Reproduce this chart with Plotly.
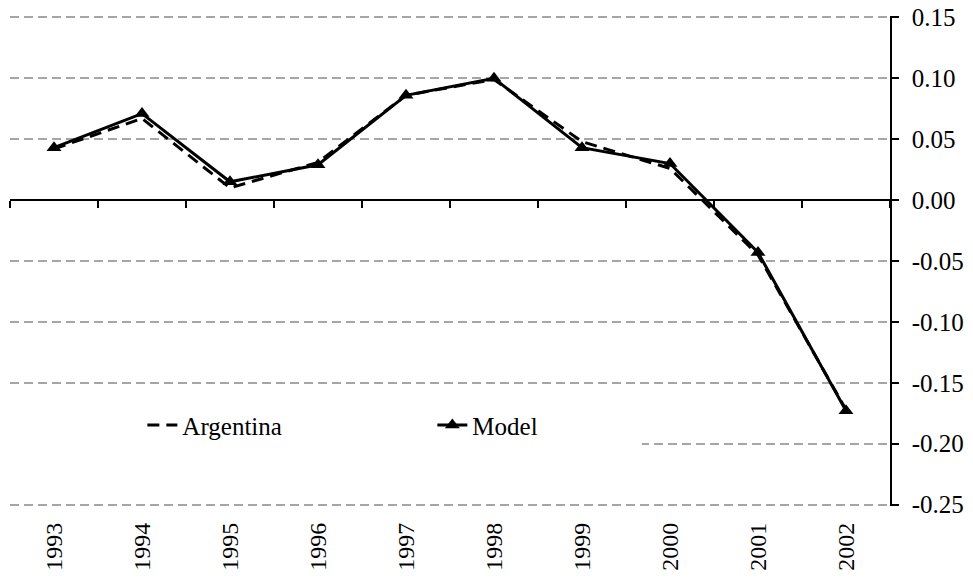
import plotly.graph_objects as go

years = ["1993", "1994", "1995", "1996", "1997", "1998", "1999", "2000", "2001", "2002"]
argentina = [0.042, 0.067, 0.010, 0.031, 0.086, 0.099, 0.048, 0.026, -0.045, -0.172]
model = [0.043, 0.071, 0.015, 0.029, 0.086, 0.100, 0.043, 0.030, -0.043, -0.173]

y_ticks = [0.15, 0.10, 0.05, 0.00, -0.05, -0.10, -0.15, -0.20, -0.25]
y_tick_text = ["0.15", "0.10", "0.05", "0.00", "-0.05", "-0.10", "-0.15", "-0.20", "-0.25"]

FONT = "Liberation Serif, Times New Roman, serif"

fig = go.Figure()
fig.add_trace(go.Scatter(
    x=years, y=argentina, name="Argentina", mode="lines",
    line=dict(color="black", width=3, dash="12px,7px"),
))
fig.add_trace(go.Scatter(
    x=years, y=model, name="Model", mode="lines+markers",
    line=dict(color="black", width=3),
    marker=dict(symbol="triangle-up", size=13, color="black"),
))
# invisible carrier trace so the zero-crossing category axis (x2) gets drawn
fig.add_trace(go.Scatter(
    x=list(range(len(years))), y=model, xaxis="x2", mode="lines",
    line=dict(width=0, color="rgba(0,0,0,0)"), showlegend=False, hoverinfo="skip",
))

# small padding so the gridlines at 0.15 and -0.25 are drawn
eps = 0.0011
ymin, ymax = -0.25 - eps, 0.15 + eps
zero_frac = (0 - ymin) / (ymax - ymin)

# page body has an 8px default margin, so the figure is sized to fit inside it
fig.update_layout(
    width=957, height=564,
    margin=dict(l=2, r=75, t=8, b=66, autoexpand=False),
    paper_bgcolor="white", plot_bgcolor="white",
    font=dict(family=FONT, size=25, color="black"),
    xaxis=dict(
        type="category", categoryorder="array", categoryarray=years,
        range=[-0.5, len(years) - 0.5], automargin=False,
        showgrid=False, zeroline=False, showline=False, ticks="",
        tickangle=-90, ticklabelstandoff=11,
        tickfont=dict(family=FONT, size=24, color="black"),
    ),
    xaxis2=dict(
        overlaying="x", anchor="free", position=zero_frac, side="bottom",
        range=[-0.5, len(years) - 0.5], automargin=False,
        tickmode="array", tickvals=[i - 0.5 for i in range(len(years) + 1)],
        ticks="outside", ticklen=7, tickwidth=1.5, tickcolor="black",
        showticklabels=False, showgrid=False, zeroline=False,
        showline=True, linecolor="black", linewidth=1.5,
    ),
    yaxis=dict(
        side="right", range=[ymin, ymax], automargin=False,
        tickmode="array", tickvals=y_ticks, ticktext=y_tick_text,
        ticks="outside", ticklen=7, tickwidth=1.5, tickcolor="black",
        showline=True, linecolor="black", linewidth=1.5,
        showgrid=True, gridcolor="#a6a6a6", gridwidth=1.5, griddash="9px,5px",
        zeroline=False, ticklabelstandoff=8, ticklabeloverflow="allow",
        tickfont=dict(family=FONT, size=25, color="black"),
    ),
    legend=dict(
        orientation="h", x=0.1504, y=0.165, xanchor="left", yanchor="middle",
        bgcolor="rgba(0,0,0,0)", entrywidth=245, entrywidthmode="pixels",
        font=dict(family=FONT, size=25, color="black"),
    ),
    shapes=[dict(
        type="rect", xref="paper", yref="paper", layer="above",
        x0=0.0, x1=0.718, y0=0.094, y1=0.227,
        fillcolor="white", line=dict(width=0),
    )],
    showlegend=True,
)

fig.write_html("out.html")
